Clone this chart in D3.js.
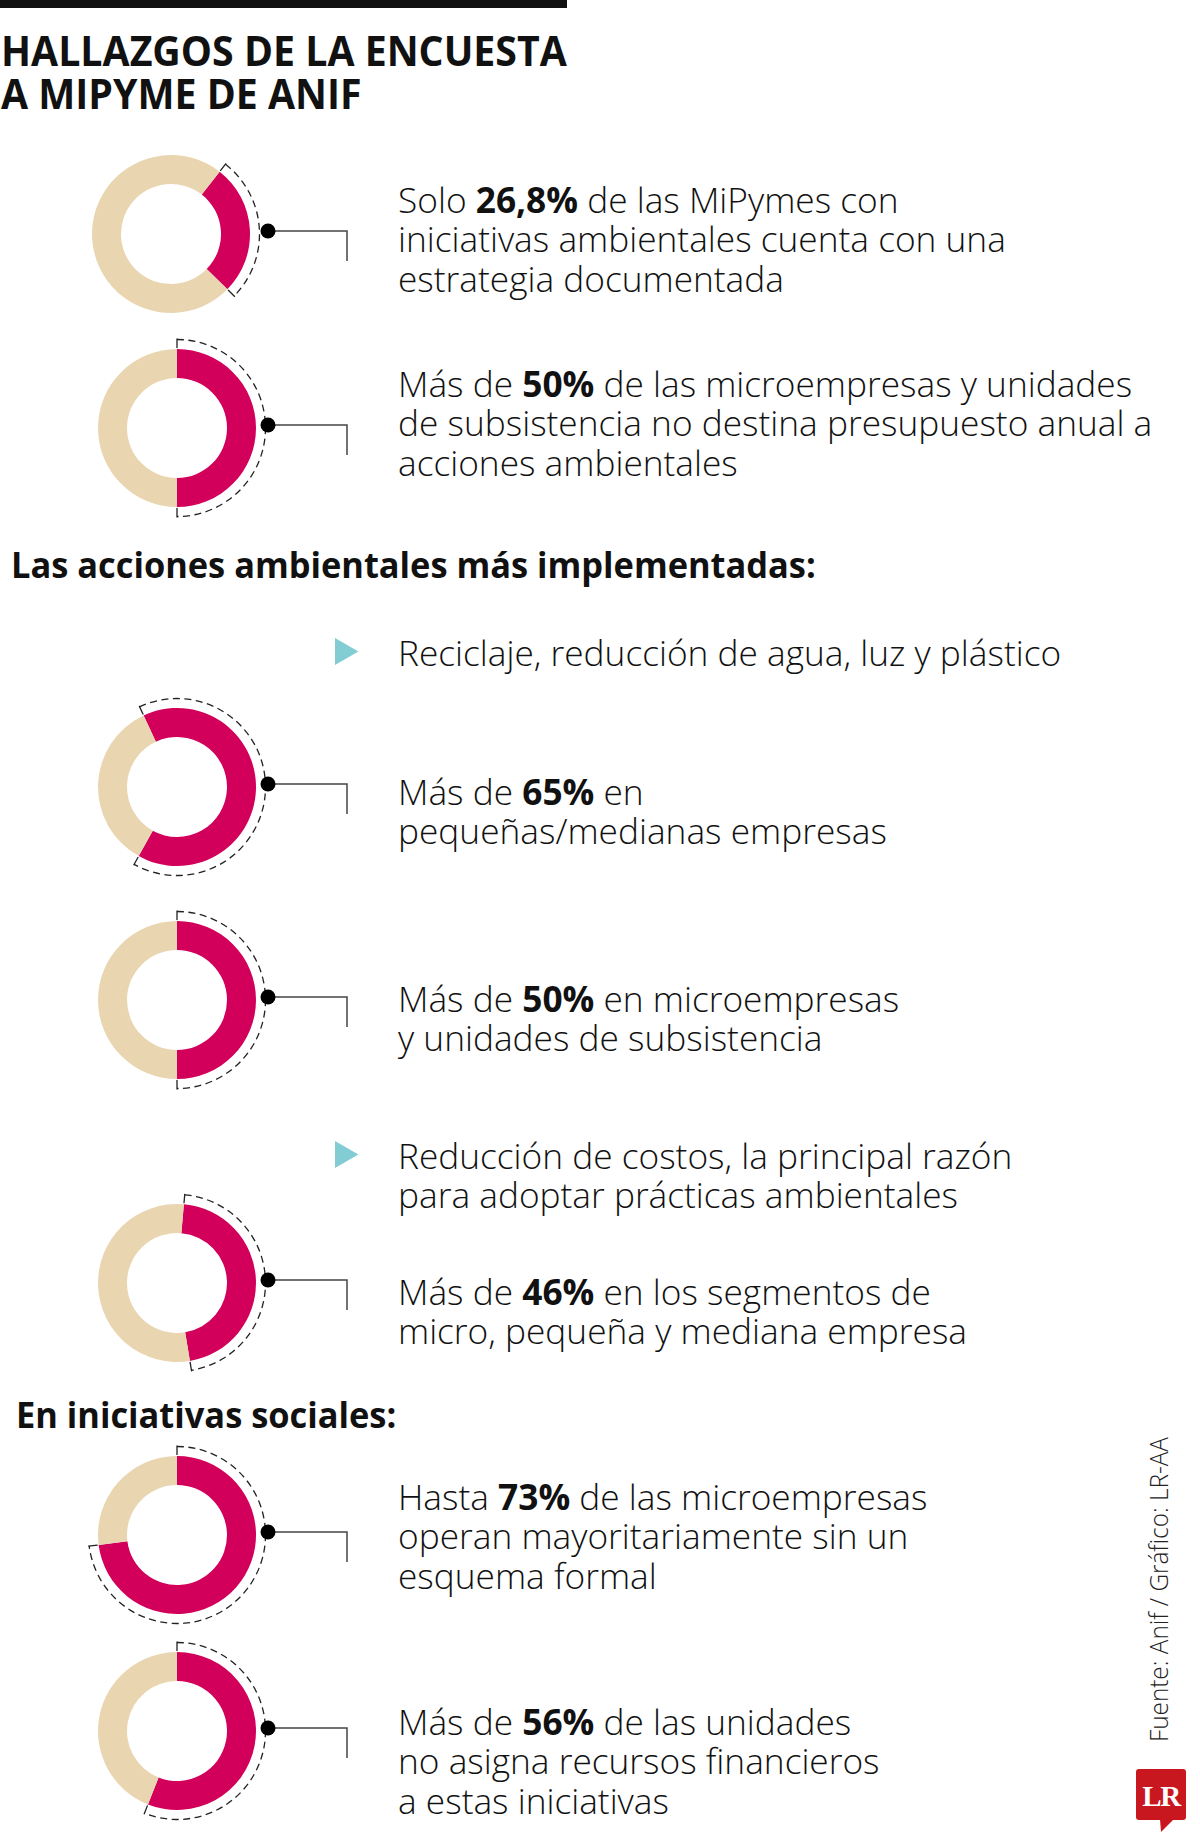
<!DOCTYPE html>
<html>
<head>
<meta charset="utf-8">
<script src="https://cdn.jsdelivr.net/npm/d3@7"></script>
<style>
  body { margin: 0; background: #fff; }
  svg { display: block; }
  text { font-family: "Open Sans", "Noto Sans", sans-serif; fill: #111; }
</style>
</head>
<body>
<div id="chart"></div>
<script>
// ---- data ----
const titleLines = ["HALLAZGOS DE LA ENCUESTA", "A MIPYME DE ANIF"];
const sectionHeads = ["Las acciones ambientales más implementadas:", "En iniciativas sociales:"];
const values = [26.8, 50, 65, 50, 46, 73, 56];
const labels = [
  ["Solo **26,8%** de las MiPymes con", "iniciativas ambientales cuenta con una", "estrategia documentada"],
  ["Más de **50%** de las microempresas y unidades", "de subsistencia no destina presupuesto anual a", "acciones ambientales"],
  ["Más de **65%** en", "pequeñas/medianas empresas"],
  ["Más de **50%** en microempresas", "y unidades de subsistencia"],
  ["Más de **46%** en los segmentos de", "micro, pequeña y mediana empresa"],
  ["Hasta **73%** de las microempresas", "operan mayoritariamente sin un", "esquema formal"],
  ["Más de **56%** de las unidades", "no asigna recursos financieros", "a estas iniciativas"]
];
const bullets = [
  ["Reciclaje, reducción de agua, luz y plástico"],
  ["Reducción de costos, la principal razón", "para adoptar prácticas ambientales"]
];
const source = "Fuente: Anif / Gráfico: LR-AA";

// ---- layout ----
const width = 1200, height = 1846;
const donutX = [171, 177, 177, 177, 177, 177, 177];
const donutY = [234, 428, 787, 1000, 1283, 1535, 1731];
const arcStart = [38, 0, -25, 0, 5, 0, 0]; // degrees, clockwise from 12 o'clock
const labelY = [213, 397, 805, 1012, 1305, 1510, 1735];
const bulletY = [666, 1169];
const headY = [578, 1428];
const headX = [11, 16];
const textX = 398, lineH = 39.5;
const rOuter = 79, rInner = 50, rDash = 88.5;
const dotX = 268, elbowX = 347, elbowDrop = 30;

const pink = "#d2005a", beige = "#e9d6b1", teal = "#82ccd3", red = "#c8171e";
const rad = d => d * Math.PI / 180;

const svg = d3.select("#chart").append("svg")
  .attr("width", width)
  .attr("height", height);

// fit a group of text horizontally: measure a reference line, return x-scale
function fitScale(node, target) {
  return target / node.getComputedTextLength();
}

// write a line with **bold** parts as tspans
function richLine(textSel, str) {
  str.split("**").forEach((part, i) => {
    if (!part) return;
    textSel.append("tspan")
      .attr("font-weight", i % 2 ? 700 : 300)
      .text(part);
  });
}

// top rule
svg.append("rect")
  .attr("x", 0).attr("y", 0)
  .attr("width", 567).attr("height", 8)
  .attr("fill", "#111");

// title
const titleG = svg.append("g");
const titleTexts = titleG.selectAll("text")
  .data(titleLines)
  .enter().append("text")
    .attr("font-size", 41)
    .attr("font-weight", 700)
    .text(d => d);
const kTitle = fitScale(titleTexts.node(), 566);
titleTexts.attr("transform", (d, i) => `translate(1,${[66, 109][i]}) scale(${kTitle},1)`);

// section headings
const heads = svg.selectAll(".head")
  .data(sectionHeads)
  .enter().append("text")
    .attr("class", "head")
    .attr("font-size", 36)
    .attr("font-weight", 700)
    .text(d => d);
const kHead = fitScale(heads.node(), 805);
heads.attr("transform", (d, i) => `translate(${headX[i]},${headY[i]}) scale(${kHead},1)`);

// donuts
const pie = d3.pie().sort(null).value(d => d);
const arc = d3.arc().innerRadius(rInner).outerRadius(rOuter);

const donuts = svg.selectAll(".donut")
  .data(values)
  .enter().append("g")
    .attr("class", "donut")
    .attr("transform", (d, i) => `translate(${donutX[i]},${donutY[i]})`);

donuts.selectAll("path.slice")
  .data((d, i) => pie.startAngle(rad(arcStart[i])).endAngle(rad(arcStart[i]) + 2 * Math.PI)([d, 100 - d]))
  .enter().append("path")
    .attr("class", "slice")
    .attr("fill", (d, j) => j === 0 ? pink : beige)
    .attr("d", arc);

// dashed bracket around the highlighted share
donuts.append("path")
  .attr("fill", "none")
  .attr("stroke", "#222")
  .attr("stroke-width", 1.3)
  .attr("stroke-dasharray", "7,4.5")
  .attr("d", (d, i) => {
    const a0 = rad(arcStart[i]), a1 = a0 + 2 * Math.PI * d / 100;
    const p = d3.path();
    p.arc(0, 0, rDash, a0 - Math.PI / 2, a1 - Math.PI / 2);
    return p.toString();
  });

donuts.append("path")
  .attr("fill", "none")
  .attr("stroke", "#222")
  .attr("stroke-width", 1.3)
  .attr("d", (d, i) => {
    const a0 = rad(arcStart[i]), a1 = a0 + 2 * Math.PI * d / 100;
    const p = d3.path();
    [a0, a1].forEach(a => {
      p.moveTo(Math.sin(a) * (rOuter + 1), -Math.cos(a) * (rOuter + 1));
      p.lineTo(Math.sin(a) * (rDash + 1), -Math.cos(a) * (rDash + 1));
    });
    return p.toString();
  });

// callout: dot + elbow line
svg.selectAll(".callout")
  .data(values)
  .enter().append("path")
    .attr("class", "callout")
    .attr("fill", "none")
    .attr("stroke", "#444")
    .attr("stroke-width", 1.5)
    .attr("d", (d, i) => `M${dotX},${donutY[i] - 3}H${elbowX}V${donutY[i] - 3 + elbowDrop}`);

svg.selectAll(".dot")
  .data(values)
  .enter().append("circle")
    .attr("class", "dot")
    .attr("cx", dotX)
    .attr("cy", (d, i) => donutY[i] - 3)
    .attr("r", 7.5)
    .attr("fill", "#000");

// body text
const bodyG = svg.append("g");
const blocks = bodyG.selectAll(".label")
  .data(labels)
  .enter().append("g")
    .attr("class", "label");

blocks.selectAll("text")
  .data(d => d)
  .enter().append("text")
    .attr("font-size", 35)
    .attr("font-weight", 300)
    .each(function (d) { richLine(d3.select(this), d); });

const bulletBlocks = bodyG.selectAll(".bullet")
  .data(bullets)
  .enter().append("g")
    .attr("class", "bullet");

bulletBlocks.selectAll("text")
  .data(d => d)
  .enter().append("text")
    .attr("font-size", 35)
    .attr("font-weight", 300)
    .text(d => d);

const kBody = fitScale(blocks.filter((d, i) => i === 0).selectAll("text").nodes()[1], 608);
blocks.attr("transform", (d, i) => `translate(${textX},${labelY[i]}) scale(${kBody},1)`);
bulletBlocks.attr("transform", (d, i) => `translate(${textX},${bulletY[i]}) scale(${kBody},1)`);
bodyG.selectAll("g").selectAll("text").attr("y", (d, j) => j * lineH);

// bullet triangles
svg.selectAll(".tri")
  .data(bullets)
  .enter().append("path")
    .attr("class", "tri")
    .attr("fill", teal)
    .attr("d", d3.symbol().type(d3.symbolTriangle).size(316))
    .attr("transform", (d, i) => `translate(342.8,${bulletY[i] - 14.5}) rotate(90)`);

// source, vertical
const src = svg.append("text")
  .attr("font-size", 26)
  .attr("font-weight", 300)
  .style("fill", "#222")
  .text(source);
const kSrc = fitScale(src.node(), 305);
src.attr("transform", `translate(1168,1742) rotate(-90) scale(${kSrc},1)`);

// LR logo
const logo = svg.append("g").attr("transform", "translate(1136,1769)");
logo.append("rect")
  .attr("width", 50).attr("height", 51).attr("rx", 3)
  .attr("fill", red);
logo.append("path")
  .attr("d", "M24,50L38,50L25,63Z")
  .attr("fill", red);
logo.append("text")
  .attr("x", 25).attr("y", 37)
  .attr("text-anchor", "middle")
  .style("font-family", "'Liberation Serif', 'DejaVu Serif', serif")
  .style("font-weight", 700)
  .style("font-size", "29px")
  .style("letter-spacing", "-1.5px")
  .style("fill", "#fff")
  .text("LR");
</script>
</body>
</html>
